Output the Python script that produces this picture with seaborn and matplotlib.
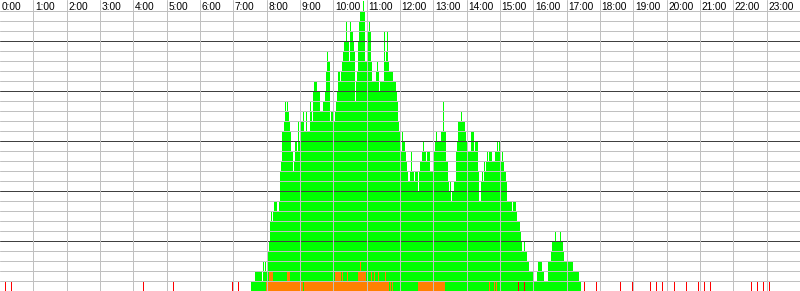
import numpy as np
import pandas as pd
import matplotlib
matplotlib.use("Agg")
import matplotlib.pyplot as plt
import seaborn as sns

# ---------------- data ----------------
hour_labels = [f"{h}:00" for h in range(24)]
slot_minutes = 1.8            # one column of the chart
first_slot_minute = 451.8     # start time (minutes) of the first non-empty column

# total count per column, as (count, number of consecutive columns)
total_runs = [
    (1, 4), (2, 7), (1, 1), (3, 1), (2, 1), (3, 1), (2, 1), (3, 1), (4, 1), (5, 1),
    (7, 1), (8, 1), (7, 1), (8, 1), (9, 3), (8, 2), (9, 1), (12, 1), (13, 1), (16, 2),
    (17, 1), (19, 1), (18, 1), (19, 1), (18, 1), (17, 1), (16, 1), (14, 2), (12, 1), (13, 1),
    (15, 2), (14, 1), (17, 1), (15, 2), (17, 2), (18, 1), (16, 2), (18, 1), (16, 3), (19, 1),
    (18, 1), (17, 1), (20, 1), (21, 3), (20, 3), (18, 3), (19, 2), (20, 1), (22, 1), (24, 1),
    (23, 2), (17, 1), (18, 3), (17, 1), (18, 1), (19, 1), (20, 1), (22, 2), (21, 1), (22, 1),
    (23, 1), (24, 1), (25, 2), (27, 1), (25, 2), (23, 1), (27, 1), (26, 2), (25, 1), (24, 1),
    (19, 1), (21, 1), (22, 1), (25, 1), (27, 1), (28, 3), (29, 1), (28, 1), (23, 2), (24, 1),
    (26, 1), (27, 1), (26, 1), (23, 1), (21, 4), (22, 1), (23, 1), (22, 1), (20, 1), (21, 4),
    (26, 1), (23, 1), (24, 1), (26, 1), (23, 1), (22, 4), (21, 3), (20, 1), (19, 1), (17, 1),
    (16, 1), (15, 1), (14, 1), (16, 1), (15, 2), (14, 1), (13, 1), (12, 1), (11, 2), (12, 1),
    (14, 1), (12, 2), (11, 1), (12, 3), (10, 1), (12, 1), (13, 2), (14, 1), (15, 1), (14, 2),
    (13, 1), (14, 3), (12, 3), (13, 1), (14, 1), (15, 1), (16, 1), (15, 4), (16, 2), (19, 1),
    (16, 2), (13, 2), (11, 1), (10, 1), (11, 1), (9, 1), (10, 2), (11, 2), (14, 1), (15, 1),
    (17, 3), (18, 1), (17, 3), (16, 1), (15, 1), (16, 1), (14, 3), (16, 3), (14, 1), (15, 3),
    (12, 1), (9, 2), (11, 1), (12, 1), (11, 1), (13, 1), (12, 1), (13, 1), (14, 1), (13, 1),
    (14, 3), (13, 3), (14, 2), (15, 1), (14, 1), (15, 1), (13, 2), (14, 1), (13, 1), (12, 2),
    (11, 1), (9, 5), (8, 1), (9, 3), (8, 1), (7, 3), (6, 1), (5, 1), (4, 2), (5, 1),
    (4, 2), (3, 2), (2, 4), (1, 4), (2, 1), (3, 4), (2, 2), (1, 4), (3, 3), (4, 1),
    (5, 3), (6, 1), (5, 4), (6, 1), (5, 2), (4, 1), (3, 9), (2, 6), (1, 2),
]

# orange count per column (same columns as total_runs)
orange_runs = [
    (0, 15), (1, 3), (2, 4), (1, 14), (2, 3), (1, 13), (0, 1), (1, 31), (2, 6), (1, 1),
    (2, 1), (1, 4), (2, 1), (1, 10), (2, 2), (3, 1), (2, 5), (1, 5), (2, 1), (1, 2),
    (2, 1), (1, 3), (2, 1), (1, 6), (2, 1), (1, 3), (0, 1), (1, 1), (0, 1), (1, 1),
    (0, 25), (1, 27), (0, 44), (1, 1), (0, 4), (1, 1), (0, 1), (1, 1), (0, 84),
]

# single red events (minutes of the day)
red_minutes = [10, 21, 258, 312, 418, 429, 933, 944, 1052, 1074, 1117, 1138,
               1171, 1182, 1192, 1214, 1236, 1257, 1268, 1279, 1353, 1363, 1374, 1385]

# ---------------- build ----------------
total_counts = np.repeat([c for c, n in total_runs], [n for c, n in total_runs])
orange_counts = np.repeat([c for c, n in orange_runs], [n for c, n in orange_runs])
slot_times = first_slot_minute + (np.arange(len(total_counts)) + 0.5) * slot_minutes

# one row per counted event, so the histogram reproduces each column's count
total_df = pd.DataFrame({"t": np.repeat(slot_times, total_counts)})
orange_df = pd.DataFrame({"t": np.repeat(slot_times, orange_counts)})
red_df = pd.DataFrame({"t": np.array(red_minutes, dtype=float)})

sns.set_theme(style="white")
plt.rcParams["font.family"] = ["Liberation Sans Narrow", "Liberation Sans", "DejaVu Sans"]

fig = plt.figure(figsize=(8, 2.91), dpi=100, facecolor="white")
ax = fig.add_axes([0, 0, 1, 1])
ax.set_facecolor("white")

common = dict(binwidth=slot_minutes, binrange=(0, 1440), alpha=1, linewidth=0,
              ax=ax, zorder=2, legend=False)
sns.histplot(data=total_df, x="t", color="#00ff00", **common)
sns.histplot(data=orange_df, x="t", color="#ff8000", **common)
sns.histplot(data=red_df, x="t", color="#ff0000", **common)

px = 72 / 100  # one pixel in points
for v in range(0, 29):
    ax.axhline(v, color="#404040" if v % 5 == 0 else "#c0c0c0", lw=px, zorder=3)
for h in range(1, 24):
    ax.axvline(h * 60, color="#c0c0c0", lw=px, zorder=3)

for h, lab in enumerate(hour_labels):
    ax.annotate(lab, xy=(h * 60, 1), xycoords=("data", "axes fraction"),
                xytext=(1.5, -9.5), textcoords="offset pixels",
                ha="left", va="baseline", fontsize=7.3, color="black", zorder=4)

ax.set_xlim(0, 1440)
ax.set_ylim(-0.05, 29.05)
ax.set_xticks([])
ax.set_yticks([])
ax.set_xlabel("")
ax.set_ylabel("")
for s in ax.spines.values():
    s.set_visible(False)

fig.savefig("out.png", dpi=100, facecolor="white")
